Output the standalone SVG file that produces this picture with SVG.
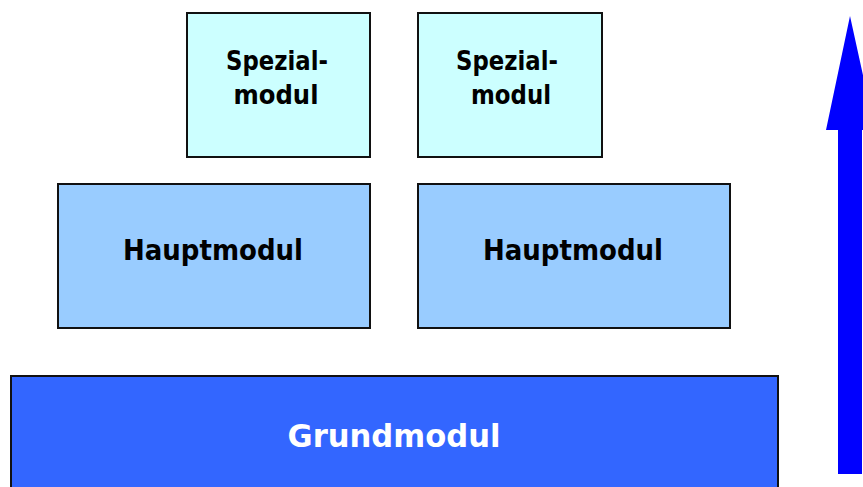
<svg xmlns="http://www.w3.org/2000/svg" width="863" height="487" viewBox="0 0 863 487">
<style>
.box{stroke:#111;stroke-width:2}
.spez{fill:#CCFFFF}
.haupt{fill:#99CCFF}
.grund{fill:#3366FF}
.t{font-family:"DejaVu Sans","Liberation Sans",sans-serif;font-weight:bold;text-anchor:middle;fill:#000}
</style>
<rect width="863" height="487" fill="#fff"/>
<g id="spezial1">
<rect class="box spez" x="187" y="13" width="183" height="144"/>
<text class="t" x="277" y="70" font-size="27" textLength="102" lengthAdjust="spacingAndGlyphs">Spezial-</text>
<text class="t" x="276" y="104" font-size="27" textLength="85" lengthAdjust="spacingAndGlyphs">modul</text>
</g>
<g id="spezial2">
<rect class="box spez" x="418" y="13" width="184" height="144"/>
<text class="t" x="507" y="70" font-size="27" textLength="102" lengthAdjust="spacingAndGlyphs">Spezial-</text>
<text class="t" x="511" y="104" font-size="27" textLength="80" lengthAdjust="spacingAndGlyphs">modul</text>
</g>
<g id="haupt1">
<rect class="box haupt" x="58" y="184" width="312" height="144"/>
<text class="t" x="213" y="260" font-size="29" textLength="180" lengthAdjust="spacingAndGlyphs">Hauptmodul</text>
</g>
<g id="haupt2">
<rect class="box haupt" x="418" y="184" width="312" height="144"/>
<text class="t" x="573" y="260" font-size="29" textLength="180" lengthAdjust="spacingAndGlyphs">Hauptmodul</text>
</g>
<g id="grund">
<rect class="box grund" x="11" y="376" width="767" height="120"/>
<text class="t" x="394" y="447" font-size="32" textLength="213" lengthAdjust="spacingAndGlyphs" style="fill:#fff">Grundmodul</text>
</g>
<g id="connectors">
<polygon points="850,16 875,130 862,130 862,474 838,474 838,130 826,130" fill="#0000FF"/>
</g>
</svg>
